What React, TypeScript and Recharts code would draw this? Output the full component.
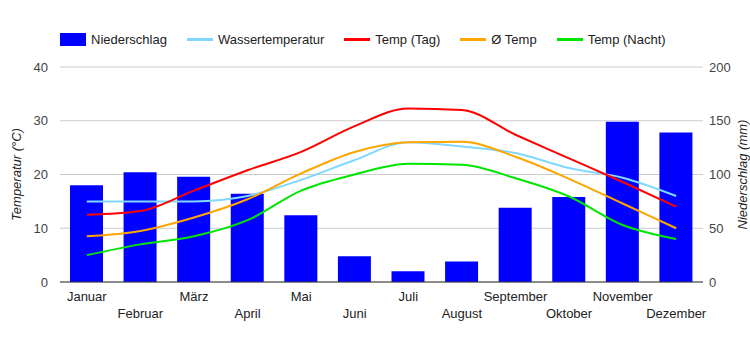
import React from 'react';
import {
  ComposedChart,
  Bar,
  Line,
  XAxis,
  YAxis,
  CartesianGrid,
  ReferenceLine,
} from 'recharts';

// Monatsdaten
const months = [
  'Januar', 'Februar', 'März', 'April', 'Mai', 'Juni',
  'Juli', 'August', 'September', 'Oktober', 'November', 'Dezember',
];
const niederschlag = [90, 102, 98, 82, 62, 24, 10, 19, 69, 79, 149, 139];
const wasserTemp = [15, 15, 15, 16, 19, 22.7, 26, 25.2, 24, 21.2, 19.4, 16];
const tempTag = [12.5, 13.2, 17, 20.8, 24.2, 29, 32.3, 32, 27.4, 23, 18.6, 14];
const tempMittel = [8.5, 9.5, 12, 15.4, 20.2, 24.2, 26, 26.1, 23.3, 19.2, 14.6, 10];
const tempNacht = [5, 7, 8.5, 11.5, 17, 20, 22, 21.8, 19.3, 15.9, 10.6, 8];

const tempTicks = [0, 10, 20, 30, 40];
const rainTicks = [0, 50, 100, 150, 200];

const data = months.map((m, i) => ({
  month: m,
  rain: niederschlag[i],
  water: wasserTemp[i],
  day: tempTag[i],
  avg: tempMittel[i],
  night: tempNacht[i],
}));

const FONT = '"Liberation Sans", Arial, sans-serif';
const TEXT = '#444';

const legendItems = [
  { label: 'Niederschlag', color: '#0000ff', box: true },
  { label: 'Wassertemperatur', color: '#80d8ff' },
  { label: 'Temp (Tag)', color: '#ff0000' },
  { label: 'Ø Temp', color: '#ffa500' },
  { label: 'Temp (Nacht)', color: '#00e600' },
];

const MonthTick = (props: any) => {
  const { x, y, payload, index } = props;
  const row = index % 2;
  return (
    <text
      x={x}
      y={y + (row ? 28 : 11)}
      textAnchor="middle"
      fontFamily={FONT}
      fontSize={13}
      fill="#222"
    >
      {payload.value}
    </text>
  );
};

export default function App() {
  return (
    <div
      style={{
        position: 'absolute',
        left: 0,
        top: 0,
        width: 750,
        height: 350,
        background: '#fff',
        fontFamily: FONT,
      }}
    >
      {/* Legende */}
      <div
        style={{
          position: 'absolute',
          left: 60,
          top: 31,
          height: 17,
          display: 'flex',
          alignItems: 'center',
          fontSize: 13,
          color: '#222',
          whiteSpace: 'nowrap',
        }}
      >
        {legendItems.map((it) => (
          <div key={it.label} style={{ display: 'flex', alignItems: 'center', marginRight: 20 }}>
            <span
              style={{
                width: 26,
                height: it.box ? 13 : 3,
                background: it.color,
                display: 'inline-block',
              }}
            />
            <span style={{ marginLeft: 5 }}>{it.label}</span>
          </div>
        ))}
      </div>

      <ComposedChart
        width={750}
        height={350}
        data={data}
        margin={{ top: 67, right: 0, left: 0, bottom: 0 }}
      >
        <CartesianGrid vertical={false} stroke="#ccc" yAxisId="temp" />
        <XAxis
          dataKey="month"
          tick={<MonthTick />}
          axisLine={false}
          tickLine={false}
          interval={0}
          height={68}
        />
        <YAxis
          yAxisId="temp"
          domain={[0, 40]}
          ticks={tempTicks}
          axisLine={false}
          tickLine={false}
          tickMargin={6}
          width={60}
          tick={{ fontFamily: FONT, fontSize: 13, fill: TEXT }}
          label={{
            value: 'Temperatur (°C)',
            angle: -90,
            position: 'insideLeft',
            offset: 16,
            style: { fontFamily: FONT, fontSize: 13, fontStyle: 'italic', fill: '#222', textAnchor: 'middle' },
          }}
        />
        <YAxis
          yAxisId="rain"
          orientation="right"
          domain={[0, 200]}
          ticks={rainTicks}
          axisLine={false}
          tickLine={false}
          tickMargin={0}
          width={47}
          tick={{ fontFamily: FONT, fontSize: 13, fill: TEXT }}
          label={{
            value: 'Niederschlag (mm)',
            angle: -90,
            position: 'insideRight',
            offset: 8,
            style: { fontFamily: FONT, fontSize: 13, fontStyle: 'italic', fill: '#222', textAnchor: 'middle' },
          }}
        />
        <Bar yAxisId="rain" dataKey="rain" fill="#0000ff" barSize={33} isAnimationActive={false} />
        <ReferenceLine yAxisId="temp" y={0} stroke="#333" strokeWidth={1} />
        <Line yAxisId="temp" type="monotone" dataKey="water" stroke="#80d8ff" strokeWidth={2} dot={false} isAnimationActive={false} />
        <Line yAxisId="temp" type="monotone" dataKey="day" stroke="#ff0000" strokeWidth={2} dot={false} isAnimationActive={false} />
        <Line yAxisId="temp" type="monotone" dataKey="avg" stroke="#ffa500" strokeWidth={2} dot={false} isAnimationActive={false} />
        <Line yAxisId="temp" type="monotone" dataKey="night" stroke="#00e600" strokeWidth={2} dot={false} isAnimationActive={false} />
      </ComposedChart>
    </div>
  );
}
